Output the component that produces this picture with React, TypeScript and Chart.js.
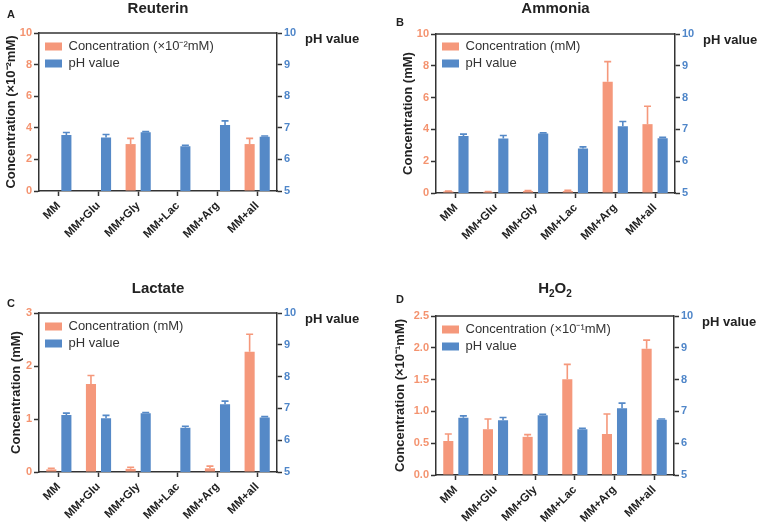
import React, { useEffect, useRef } from "react";
import { Chart, registerables } from "chart.js";

Chart.register(...registerables);

const FONT = '"Liberation Sans", Arial, Helvetica, sans-serif';
const ORANGE = "#F5987B";
const BLUE = "#5589C7";
const ORANGE_TICK = "#F4936F";
const BLUE_TICK = "#4F86C9";
const AXIS = "#333333";
const TEXT = "#222222";

const categories = ["MM", "MM+Glu", "MM+Gly", "MM+Lac", "MM+Arg", "MM+all"];

// A – Reuterin (×10^-2 mM)
const reuterinConc = [0, 0, 2.97, 0, 0, 2.97];
const reuterinConcErr = [0, 0, 0.36, 0, 0, 0.36];
const reuterinPH = [6.77, 6.69, 6.86, 6.42, 7.09, 6.72];
const reuterinPHErr = [0.08, 0.1, 0.02, 0.03, 0.13, 0.02];

// B – Ammonia (mM)
const ammoniaConc = [0.1, 0.07, 0.12, 0.12, 7.0, 4.33];
const ammoniaConcErr = [0.02, 0.02, 0.03, 0.05, 1.26, 1.13];
const ammoniaPH = [6.79, 6.71, 6.87, 6.4, 7.1, 6.72];
const ammoniaPHErr = [0.06, 0.1, 0.02, 0.05, 0.15, 0.03];

// C – Lactate (mM)
const lactateConc = [0.05, 1.66, 0.06, 0, 0.07, 2.27];
const lactateConcErr = [0.02, 0.16, 0.03, 0, 0.04, 0.33];
const lactatePH = [6.79, 6.69, 6.85, 6.39, 7.13, 6.71];
const lactatePHErr = [0.06, 0.09, 0.02, 0.05, 0.1, 0.03];

// D – H2O2 (×10^-1 mM)
const h2o2Conc = [0.535, 0.72, 0.6, 1.505, 0.645, 1.986];
const h2o2ConcErr = [0.11, 0.16, 0.035, 0.235, 0.315, 0.134];
const h2o2PH = [6.8, 6.72, 6.88, 6.44, 7.1, 6.74];
const h2o2PHErr = [0.06, 0.09, 0.03, 0.03, 0.16, 0.02];

// tick values
const concTicks10 = [0, 2, 4, 6, 8, 10];
const concTicks3 = [0, 1, 2, 3];
const concTicks25 = [0, 0.5, 1.0, 1.5, 2.0, 2.5];
const phTicks = [5, 6, 7, 8, 9, 10];

const errorBarPlugin = {
  id: "errorBars",
  afterDatasetsDraw(chart: any, _args: any, opts: any) {
    const ctx = chart.ctx;
    const errs = opts.errors || [];
    chart.data.datasets.forEach((ds: any, i: number) => {
      const meta = chart.getDatasetMeta(i);
      const scale = chart.scales[ds.yAxisID];
      const e = errs[i] || [];
      meta.data.forEach((el: any, j: number) => {
        const err = e[j];
        const v = ds.data[j];
        if (!err) return;
        const yTop = scale.getPixelForValue(v + err);
        ctx.save();
        ctx.strokeStyle = ds.backgroundColor;
        ctx.lineWidth = 1.6;
        ctx.beginPath();
        ctx.moveTo(el.x, el.y);
        ctx.lineTo(el.x, yTop);
        ctx.moveTo(el.x - 3.5, yTop);
        ctx.lineTo(el.x + 3.5, yTop);
        ctx.stroke();
        ctx.restore();
      });
    });
  },
};

const legendShiftPlugin = {
  id: "legendShift",
  afterLayout(chart: any, _args: any, opts: any) {
    const lg = chart.legend;
    if (!lg) return;
    const ca = chart.chartArea;
    const dx = opts.dx || 0;
    const dy = opts.dy || 0;
    const w = lg.width;
    const h = lg.height;
    lg.left = ca.left + dx;
    lg.top = ca.top + dy;
    lg.right = lg.left + w;
    lg.bottom = lg.top + h;
  },
};

const panelTextPlugin = {
  id: "panelText",
  afterDraw(chart: any, _args: any, opts: any) {
    const { ctx, chartArea } = chart;
    ctx.save();
    // top frame line
    ctx.strokeStyle = AXIS;
    ctx.lineWidth = 1.5;
    ctx.beginPath();
    ctx.moveTo(chartArea.left, chartArea.top);
    ctx.lineTo(chartArea.right, chartArea.top);
    ctx.stroke();

    // title with optional subscripts
    const segs: [string, boolean][] = opts.titleSegs || [];
    const mainFont = `bold 15px ${FONT}`;
    const subFont = `bold 10px ${FONT}`;
    let total = 0;
    segs.forEach(([t, sub]) => {
      ctx.font = sub ? subFont : mainFont;
      total += ctx.measureText(t).width;
    });
    let x = (chartArea.left + chartArea.right) / 2 - total / 2;
    ctx.fillStyle = TEXT;
    ctx.textBaseline = "alphabetic";
    ctx.textAlign = "left";
    segs.forEach(([t, sub]) => {
      ctx.font = sub ? subFont : mainFont;
      ctx.fillText(t, x, opts.titleBase + (sub ? 4 : 0));
      x += ctx.measureText(t).width;
    });

    // panel letter
    ctx.font = `bold 11px ${FONT}`;
    ctx.fillText(opts.letter, opts.letterX, opts.letterBase);

    // right axis label
    ctx.font = `bold 13px ${FONT}`;
    ctx.fillText("pH value", chartArea.right + 28, chartArea.top + 10);
    ctx.restore();
  },
};

type PanelProps = {
  left: number;
  top: number;
  width: number;
  height: number;
  area: { l: number; r: number; t: number; b: number };
  titleSegs: [string, boolean][];
  titleBase: number;
  letter: string;
  letterX: number;
  letterBase: number;
  yTitle: string;
  yTitleCenter: number;
  legendLabel: string;
  legendDy: number;
  conc: number[];
  concErr: number[];
  ph: number[];
  phErr: number[];
  concTicks: number[];
  decimals: number;
};

function Panel(p: PanelProps) {
  const ref = useRef<HTMLCanvasElement>(null);
  useEffect(() => {
    const W = p.width;
    const H = p.height;
    const tickGrid = {
      display: true,
      drawOnChartArea: false,
      drawTicks: true,
      tickLength: 5,
      tickColor: AXIS,
      tickWidth: 1.5,
    };
    const border = { display: true, color: AXIS, width: 1.5 };
    const chart = new Chart(ref.current as HTMLCanvasElement, {
      type: "bar",
      data: {
        labels: categories,
        datasets: [
          {
            label: p.legendLabel,
            data: p.conc,
            backgroundColor: ORANGE,
            yAxisID: "y",
            categoryPercentage: 0.76,
            barPercentage: 0.67,
          },
          {
            label: "pH value",
            data: p.ph,
            backgroundColor: BLUE,
            yAxisID: "y1",
            categoryPercentage: 0.76,
            barPercentage: 0.67,
          },
        ],
      },
      options: {
        responsive: false,
        animation: false,
        devicePixelRatio: 1,
        layout: { padding: { left: 0, right: 0, top: p.area.t, bottom: 0 } },
        plugins: {
          legend: {
            position: "chartArea",
            align: "start",
            labels: {
              boxWidth: 17,
              boxHeight: 8,
              padding: 4,
              color: "#333333",
              font: { size: 13, family: FONT },
            },
          },
          tooltip: { enabled: false },
          title: { display: false },
          errorBars: { errors: [p.concErr, p.phErr] },
          legendShift: { dx: 2, dy: p.legendDy },
          panelText: {
            titleSegs: p.titleSegs,
            titleBase: p.titleBase,
            letter: p.letter,
            letterX: p.letterX,
            letterBase: p.letterBase,
          },
        } as any,
        scales: {
          x: {
            grid: { ...tickGrid, offset: false },
            border,
            ticks: {
              autoSkip: false,
              maxRotation: 45,
              minRotation: 45,
              color: TEXT,
              padding: 3,
              font: { size: 11.5, weight: "bold", family: FONT },
            },
            afterFit: (s: any) => {
              s.height = H - p.area.b;
            },
          },
          y: {
            position: "left",
            min: 0,
            max: p.concTicks[p.concTicks.length - 1],
            afterBuildTicks: (s: any) => {
              s.ticks = p.concTicks.map((v) => ({ value: v }));
            },
            grid: tickGrid,
            border,
            ticks: {
              color: ORANGE_TICK,
              padding: 2,
              font: { size: 11, weight: "bold", family: FONT },
              callback: (v: any) => Number(v).toFixed(p.decimals),
            },
            title: {
              display: true,
              text: p.yTitle,
              color: TEXT,
              font: { size: 13, weight: "bold", family: FONT },
              padding: { top: p.yTitleCenter - 7.8, bottom: 0 },
            },
            afterFit: (s: any) => {
              s.width = p.area.l;
            },
          },
          y1: {
            position: "right",
            min: 5,
            max: 10,
            afterBuildTicks: (s: any) => {
              s.ticks = phTicks.map((v) => ({ value: v }));
            },
            grid: tickGrid,
            border,
            ticks: {
              color: BLUE_TICK,
              padding: 2,
              font: { size: 11, weight: "bold", family: FONT },
            },
            afterFit: (s: any) => {
              s.width = W - p.area.r;
            },
          },
        } as any,
      },
      plugins: [errorBarPlugin, legendShiftPlugin, panelTextPlugin],
    });
    return () => chart.destroy();
  }, []);
  return (
    <div
      style={{
        position: "absolute",
        left: p.left,
        top: p.top,
        width: p.width,
        height: p.height,
      }}
    >
      <canvas
        ref={ref}
        width={p.width}
        height={p.height}
        style={{ display: "block", width: p.width, height: p.height }}
      />
    </div>
  );
}

export default function App() {
  return (
    <div
      style={{
        position: "absolute",
        left: 0,
        top: 0,
        width: 758,
        height: 527,
        background: "#ffffff",
        overflow: "hidden",
      }}
    >
      <Panel
        left={0}
        top={0}
        width={379}
        height={260}
        area={{ l: 39, r: 277, t: 33, b: 191 }}
        titleSegs={[["Reuterin", false]]}
        titleBase={13}
        letter="A"
        letterX={7}
        letterBase={17.5}
        yTitle="Concentration (×10⁻²mM)"
        yTitleCenter={11}
        legendLabel="Concentration (×10⁻²mM)"
        legendDy={3}
        conc={reuterinConc}
        concErr={reuterinConcErr}
        ph={reuterinPH}
        phErr={reuterinPHErr}
        concTicks={concTicks10}
        decimals={0}
      />
      <Panel
        left={379}
        top={0}
        width={379}
        height={260}
        area={{ l: 57, r: 296, t: 34, b: 193 }}
        titleSegs={[["Ammonia", false]]}
        titleBase={13}
        letter="B"
        letterX={17}
        letterBase={26}
        yTitle="Concentration (mM)"
        yTitleCenter={29}
        legendLabel="Concentration (mM)"
        legendDy={2}
        conc={ammoniaConc}
        concErr={ammoniaConcErr}
        ph={ammoniaPH}
        phErr={ammoniaPHErr}
        concTicks={concTicks10}
        decimals={0}
      />
      <Panel
        left={0}
        top={260}
        width={379}
        height={267}
        area={{ l: 39, r: 277, t: 53, b: 212 }}
        titleSegs={[["Lactate", false]]}
        titleBase={32.5}
        letter="C"
        letterX={7}
        letterBase={47}
        yTitle="Concentration (mM)"
        yTitleCenter={16}
        legendLabel="Concentration (mM)"
        legendDy={3}
        conc={lactateConc}
        concErr={lactateConcErr}
        ph={lactatePH}
        phErr={lactatePHErr}
        concTicks={concTicks3}
        decimals={0}
      />
      <Panel
        left={379}
        top={260}
        width={379}
        height={267}
        area={{ l: 57, r: 295, t: 56, b: 215 }}
        titleSegs={[
          ["H", false],
          ["2", true],
          ["O", false],
          ["2", true],
        ]}
        titleBase={33}
        letter="D"
        letterX={17}
        letterBase={43}
        yTitle="Concentration (×10⁻¹mM)"
        yTitleCenter={21}
        legendLabel="Concentration (×10⁻¹mM)"
        legendDy={3}
        conc={h2o2Conc}
        concErr={h2o2ConcErr}
        ph={h2o2PH}
        phErr={h2o2PHErr}
        concTicks={concTicks25}
        decimals={1}
      />
    </div>
  );
}
